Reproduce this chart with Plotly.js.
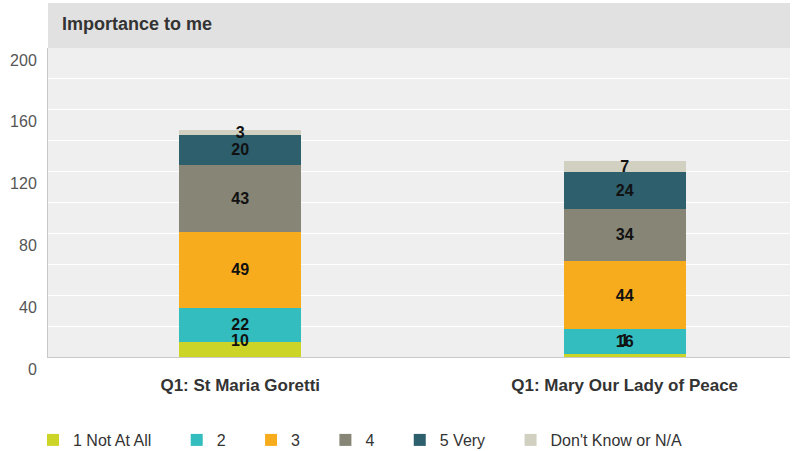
<!DOCTYPE html>
<html>
<head>
<meta charset="utf-8">
<script src="https://cdn.plot.ly/plotly-3.0.1.min.js"></script>
<style>html,body{margin:0;padding:0;background:#fff;}#chart{width:792px;height:451px;}</style>
</head>
<body>
<div id="chart"></div>
<script>
var categories = ["Q1: St Maria Goretti", "Q1: Mary Our Lady of Peace"];
var seriesNames = ["1 Not At All", "2", "3", "4", "5 Very", "Don't Know or N/A"];
var notAtAll = [10, 2];
var two = [22, 16];
var three = [49, 44];
var four = [43, 34];
var fiveVery = [20, 24];
var dontKnow = [3, 7];
var labelsNotAtAll = ["10", "1"];
var yTickVals = [0, 40, 80, 120, 160, 200];

var seriesValues = [notAtAll, two, three, four, fiveVery, dontKnow];
var colors = ["#cdd428", "#33bdbf", "#f7ac1e", "#878676", "#2d5f6c", "#d2d0c1"];

var arial = "'Liberation Sans', Arial, sans-serif";
var labelFont = {family: arial, size: 16, color: '#111', weight: 'bold'};
var minLabelY = 10.5; // lowest label position used by the original renderer

var pad = '\u2002\u2002\u00a0';
var traces = seriesNames.map(function (name, i) {
  var first = (i === 0);
  return {
    type: 'bar',
    name: name + pad,
    x: categories,
    y: seriesValues[i],
    text: first ? null : seriesValues[i].map(String),
    textposition: first ? 'none' : 'inside',
    insidetextanchor: 'middle',
    constraintext: 'none',
    textangle: 0,
    textfont: labelFont,
    width: 0.318,
    marker: {color: colors[i], line: {width: 0}},
    hoverinfo: 'none'
  };
});

var annotations = categories.map(function (c, j) {
  return {
    x: c, y: Math.max(notAtAll[j] / 2, minLabelY),
    xref: 'x', yref: 'y',
    text: labelsNotAtAll[j], showarrow: false,
    font: labelFont, xanchor: 'center', yanchor: 'middle'
  };
});

var layout = {
  width: 792, height: 451,
  margin: {l: 48, r: 2, t: 48, b: 94},
  barmode: 'stack',
  paper_bgcolor: '#ffffff',
  plot_bgcolor: '#efefef',
  showlegend: true,
  title: {
    text: '<b>Importance to me</b>',
    font: {family: arial, size: 18, color: '#333'},
    x: 0, xref: 'paper', xanchor: 'left', y: 1, yref: 'paper', yanchor: 'bottom',
    pad: {l: 14, b: 18}
  },
  xaxis: {
    type: 'category',
    range: [-0.5, 1.43],
    showgrid: false,
    showline: true, linecolor: '#c8c8c8', linewidth: 1,
    ticks: '',
    ticklabelstandoff: 13,
    tickfont: {family: arial, size: 17, color: '#333', weight: 'bold'},
    fixedrange: true
  },
  yaxis: {
    range: [0, 200],
    tickvals: yTickVals,
    ticktext: yTickVals.map(String),
    showgrid: true, gridcolor: '#ffffff', gridwidth: 1,
    minor: {dtick: 20, showgrid: true, gridcolor: '#ffffff', gridwidth: 1, ticks: ''},
    zeroline: false,
    showline: true, linecolor: '#c8c8c8', linewidth: 1,
    ticks: '',
    ticklabelshift: 12,
    ticklabelstandoff: 7,
    tickfont: {family: arial, size: 16, color: '#555'},
    fixedrange: true
  },
  legend: {
    orientation: 'h',
    xref: 'container', yref: 'container',
    x: 33 / 792, xanchor: 'left',
    y: 11 / 451, yanchor: 'middle',
    font: {family: arial, size: 16, color: '#333'},
    traceorder: 'normal',
    itemclick: false, itemdoubleclick: false
  },
  annotations: annotations,
  shapes: [{
    type: 'rect', xref: 'paper', yref: 'paper',
    x0: 0, x1: 1, y0: 1, y1: 1 + 45 / 309,
    fillcolor: '#e1e1e1', line: {width: 0}, layer: 'below'
  }]
};

Plotly.newPlot('chart', traces, layout, {displayModeBar: false, staticPlot: true});
</script>
</body>
</html>
